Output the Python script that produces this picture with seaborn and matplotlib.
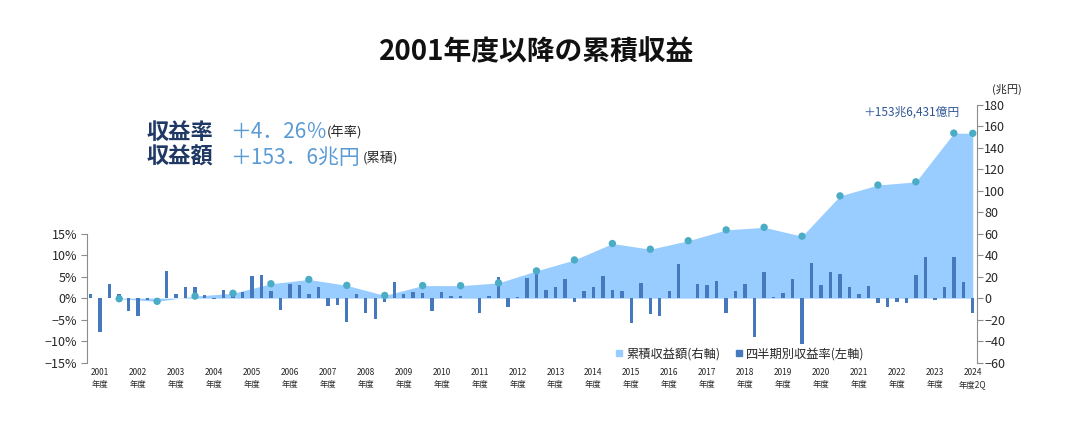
import matplotlib
matplotlib.use("Agg")
import matplotlib.pyplot as plt
from matplotlib.lines import Line2D
import seaborn as sns
import pandas as pd

# ---------------- data ----------------
years = list(range(2001, 2025))
quarters = ["Q1", "Q2", "Q3", "Q4"]

# quarterly return (%), FY2001 Q1 ... FY2024 Q2
quarterly_returns = [
    1.0, -7.8, 3.4, 0.9,     # 2001
    -3.0, -4.1, -0.5, -0.3,  # 2002
    6.3, 0.9, 2.5, 2.6,      # 2003
    0.7, -0.2, 1.9, 1.8,     # 2004
    1.5, 5.2, 5.3, 1.7,      # 2005
    -2.8, 3.2, 3.0, 0.9,     # 2006
    2.7, -1.9, -1.7, -5.5,   # 2007
    0.9, -3.5, -4.9, -0.9,   # 2008
    3.8, 0.9, 1.4, 1.2,      # 2009
    -3.0, 1.4, 0.5, 0.5,     # 2010
    0.1, -3.4, 0.4, 4.9,     # 2011
    -2.0, 0.3, 4.8, 6.1,     # 2012
    1.8, 2.5, 4.5, -0.8,     # 2013
    1.6, 2.7, 5.2, 2.0,      # 2014
    1.7, -5.7, 3.5, -3.7,    # 2015
    -4.1, 1.7, 8.0, 0.1,     # 2016
    3.4, 3.0, 3.9, -3.5,     # 2017
    1.6, 3.4, -9.1, 6.2,     # 2018
    0.2, 1.2, 4.5, -10.8,    # 2019
    8.3, 3.1, 6.2, 5.6,      # 2020
    2.7, 1.0, 2.9, -1.1,     # 2021
    -2.0, -0.9, -1.1, 5.5,   # 2022
    9.6, -0.4, 2.7, 9.6,     # 2023
    3.7, -3.5,               # 2024 (Q1, Q2)
]

# cumulative return (trillion yen) at each fiscal-year end, plus 2024 Q2
cum_points = ["2001Q4", "2002Q4", "2003Q4", "2004Q4", "2005Q4", "2006Q4",
              "2007Q4", "2008Q4", "2009Q4", "2010Q4", "2011Q4", "2012Q4",
              "2013Q4", "2014Q4", "2015Q4", "2016Q4", "2017Q4", "2018Q4",
              "2019Q4", "2020Q4", "2021Q4", "2022Q4", "2023Q4", "2024Q2"]
cum_values = [-0.6, -3.0, 1.9, 4.5, 13.4, 17.4, 11.9, 2.5, 11.7, 11.6, 14.2,
              25.4, 35.6, 50.9, 45.6, 53.5, 63.6, 66.0, 57.7, 95.3, 105.4,
              108.4, 153.8, 153.6]

left_ticks = [-15, -10, -5, 0, 5, 10, 15]
right_ticks = [-60, -40, -20, 0, 20, 40, 60, 80, 100, 120, 140, 160, 180]
year_labels = [f"{y}\n年度" for y in years[:-1]] + ["2024\n年度2Q"]

title = "2001年度以降の累積収益"
# ---------------------------------------

q_labels = [f"{y}{q}" for y in years for q in quarters][:len(quarterly_returns)]
df = pd.DataFrame({"quarter": q_labels, "ret": quarterly_returns})
pos = {q: i for i, q in enumerate(q_labels)}
cum_x = [pos[p] for p in cum_points]
label_x = [pos[f"{y}Q2"] for y in years]

sns.set_style("white")
plt.rcParams["font.family"] = ["Noto Sans CJK JP", "DejaVu Sans"]
plt.rcParams["axes.unicode_minus"] = True

AREA = "#99CCFF"
BAR = "#4678BE"
DOT = "#4BACC6"
NAVY = "#1F3864"
LBLUE = "#5B9BD5"
GRAY = "#8C8C8C"
TXT = "#262626"

fig = plt.figure(figsize=(10.8, 4.46), dpi=100)
fig.patch.set_facecolor("white")
rect = [0.0803, 0.1872, 0.8241, 0.5774]
ax = fig.add_axes(rect)
ax2 = ax.twinx()
ax3 = ax.twinx()
ax2.set_zorder(0)
ax.set_zorder(1)
ax3.set_zorder(2)
ax.patch.set_visible(False)
ax3.patch.set_visible(False)

# area (right axis)
ax2.fill_between(cum_x, 0, cum_values, color=AREA, lw=0)

# bars (left axis)
sns.barplot(data=df, x="quarter", y="ret", order=q_labels, ax=ax, color=BAR,
            saturation=1, width=0.36, errorbar=None, linewidth=0,
            edgecolor="none")

# dots (right-axis scale, above bars)
sns.scatterplot(x=cum_x, y=cum_values, ax=ax3, color=DOT, s=28,
                edgecolor="none", zorder=5)

xl = (-0.42, len(q_labels) - 1 + 0.42)
ax.set_xlim(*xl)
for a in (ax, ax2, ax3):
    for s in a.spines.values():
        s.set_visible(False)
ax.set_ylim(-15, 45)
ax2.set_ylim(-60, 180)
ax3.set_ylim(-60, 180)
ax3.set_yticks([])
ax3.set_ylabel("")
for a in (ax2, ax3):
    a.tick_params(axis="x", bottom=False, labelbottom=False, top=False,
                  labeltop=False)

# left axis
ax.spines["left"].set_visible(True)
ax.spines["left"].set_bounds(-15, 15)
ax.spines["left"].set_color(GRAY)
ax.set_yticks(left_ticks)
ax.set_yticklabels([f"{v}%".replace("-", "−") for v in left_ticks])
ax.tick_params(axis="y", left=True, direction="out", length=4, width=0.8,
               color=GRAY, labelsize=9, labelcolor=TXT, pad=3)
ax.set_ylabel("")
ax.set_xlabel("")

# x labels
ax.set_xticks(label_x)
ax.set_xticklabels(year_labels, fontsize=6, color=TXT, linespacing=1.4)
ax.tick_params(axis="x", length=0, pad=4)

# right axis
ax2.spines["right"].set_visible(True)
ax2.spines["right"].set_color(GRAY)
ax2.set_yticks(right_ticks)
ax2.set_yticklabels([str(v).replace("-", "−") for v in right_ticks])
ax2.tick_params(axis="y", right=True, direction="out", length=4, width=0.8,
                color=GRAY, labelsize=9, labelcolor=TXT, pad=1.5)

# texts
fig.text(0.497, 0.882, title, ha="center", va="center", fontsize=20,
         fontweight="bold", color="#111111")
fig.text(1007 / 1080, 1 - 89 / 446, "(兆円)", ha="center", va="center",
         fontsize=8, color=TXT)
fig.text(911 / 1080, 1 - 112.5 / 446, "＋153兆6,431億円", ha="center",
         va="center", fontsize=8.5, color="#2F5597")

y1, y2 = 1 - 132.5 / 446, 1 - 157.5 / 446
fig.text(147 / 1080, y1, "収益率", ha="left", va="center", fontsize=16,
         fontweight="bold", color=NAVY)
fig.text(230 / 1080, y1, "＋4．26％", ha="left", va="center", fontsize=15,
         color=LBLUE)
fig.text(327 / 1080, y1, "(年率)", ha="left", va="center", fontsize=9.5,
         color=TXT)
fig.text(147 / 1080, y2, "収益額", ha="left", va="center", fontsize=16,
         fontweight="bold", color=NAVY)
fig.text(230 / 1080, y2, "＋153．6兆円", ha="left", va="center", fontsize=15,
         color=LBLUE)
fig.text(363 / 1080, y2, "(累積)", ha="left", va="center", fontsize=9.5,
         color=TXT)

handles = [Line2D([], [], marker="s", ls="none", markersize=5, color=AREA),
           Line2D([], [], marker="s", ls="none", markersize=5, color=BAR)]
fig.legend(handles, ["累積収益額(右軸)", "四半期別収益率(左軸)"],
           loc="center left", bbox_to_anchor=(610 / 1080, 1 - 354 / 446),
           ncol=2, frameon=False, fontsize=8.8, handlelength=0.7,
           handletextpad=0.2, columnspacing=1.2, borderaxespad=0)

fig.savefig("out.png", dpi=100, facecolor="white")
